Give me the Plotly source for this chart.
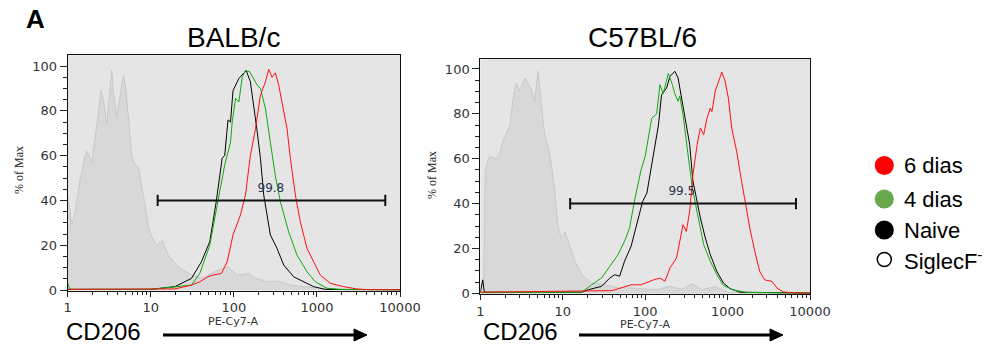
import plotly.graph_objects as go

# ---------------- data (fluorescence intensity, % of max) ----------------
# BALB/c
balb_gray_x = [1.01, 1.12, 1.22, 1.41, 1.62, 1.70, 1.77, 1.95, 2.23, 2.51, 2.69, 2.95, 3.39, 3.55, 3.89,
               4.68, 5.01, 5.38, 5.90, 6.46, 7.10, 7.80, 8.55, 9.38, 10.2, 11.7, 13.8, 16.2, 21.4, 30.9,
               39.8, 44.7, 64.6, 85.1, 110, 151, 182, 251, 347, 479, 759, 1096, 1995, 10000]
balb_gray_y = [42, 29, 34, 49, 60, 62, 61, 57, 73, 89, 85, 74, 98, 88, 77,
               96, 90, 77, 60, 56, 55, 46, 38, 28, 24, 20, 22, 15.6, 10.4, 6.7,
               5.5, 6, 9, 10.4, 6.7, 7.4, 5.2, 3.7, 4, 2.2, 1.5, 0.7, 0.2, 0]

balb_naive_x = [1.0, 10.0, 19.5, 30.9, 40.7, 51.3, 61.7, 72.4, 77.6, 85.1, 91.2, 97.7, 115, 141, 158,
                174, 191, 209, 229, 251, 275, 331, 398, 525, 692, 912, 1259, 10000]
balb_naive_y = [0.3, 0.3, 1.5, 5.2, 12.6, 21.6, 40, 59, 60, 76, 75, 89, 94.5, 98, 93,
                82.6, 70.7, 58.8, 42.4, 33.5, 24.6, 18.6, 11.2, 5.9, 3.7, 1.5, 0.3, 0.1]

balb_d4_x = [1.0, 1.05, 1.1, 10.0, 30.9, 38.9, 51.3, 64.6, 77.6, 91.2, 95.5, 105, 115, 126, 138, 155,
             191, 209, 240, 275, 316, 363, 457, 575, 759, 955, 1318, 1905, 10000]
balb_d4_y = [3, 1, 0.3, 0.3, 2.2, 7.4, 20, 39.4, 55.8, 66, 75, 85.6, 84, 95, 98, 97.5,
             91.5, 90, 81, 66, 51, 39.4, 26, 15.6, 8.2, 3.7, 0.8, 0.3, 0.1]

balb_d6_x = [1.0, 19.5, 30.9, 38.9, 49, 56.2, 70.8, 83.2, 97.7, 120, 138, 158, 182, 209, 240, 263,
             288, 316, 347, 380, 437, 479, 550, 631, 759, 912, 1096, 1445, 2089, 3020, 3981, 10000]
balb_d6_y = [0.3, 0.5, 2.2, 3.7, 6, 6.7, 7.4, 12.6, 24.6, 33.5, 42.4, 60, 72, 87, 93, 98.6,
             95, 97, 91.5, 84, 72, 58.8, 42.4, 30.5, 18.6, 12.6, 6.7, 3, 1.5, 0.5, 0.2, 0.1]

# C57BL/6
c57_gray_x = [1.02, 1.10, 1.15, 1.29, 1.55, 1.70, 1.91, 2.29, 2.57, 2.75, 2.95, 3.47, 4.17, 4.57, 5.01,
              5.50, 6.03, 6.92, 7.94, 8.71, 9.55, 10.7, 12.0, 14.1, 17.0, 22.4, 32.4, 46.8, 67.6, 97.7,
              138, 200, 282, 372, 490, 708, 1000, 1995, 10000]
c57_gray_y = [3, 5, 55, 61, 60, 62, 68.5, 75, 90, 93.8, 90, 96, 90.8, 85.6, 99,
              85.6, 70.7, 63.3, 47, 30.6, 24.7, 27.3, 21.7, 14.3, 8.3, 4.6, 3.8, 2.4, 2.4, 1.9,
              1.6, 3.1, 1.8, 4.3, 1.6, 3.0, 0.5, 0.2, 0]

c57_naive_x = [1.0, 1.07, 1.12, 17.0, 20.4, 29.5, 37.2, 42.7, 49, 56.2, 67.6, 81.3, 93.3, 105, 126, 145,
               158, 182, 200, 229, 251, 263, 288, 316, 347, 380, 427, 468, 537, 617, 741, 891, 1072,
               1413, 10000]
c57_naive_y = [0.3, 6, 0.5, 0.5, 1.6, 3.1, 6.8, 8.3, 7.6, 14.3, 21, 32, 41, 44.7, 61.8, 75,
               88.5, 91.5, 96.7, 99, 96, 91.5, 82.6, 73.7, 66.3, 50, 41, 33.6, 24.7, 17.2, 9.8, 4.6, 2.1,
               0.5, 0.1]

c57_d4_x = [1.0, 17.0, 22.4, 29.5, 37.2, 46.8, 56.2, 64.6, 74.1, 81.3, 89.1, 100, 120, 138, 151, 166,
            191, 214, 229, 251, 263, 288, 316, 347, 380, 447, 513, 617, 741, 891, 1175, 1698, 10000]
c57_d4_y = [0.3, 0.5, 3.8, 6.8, 12, 17.2, 23.2, 29, 41, 48.4, 55, 61, 78, 80, 93, 89,
            98, 93, 89, 85.6, 88, 79.6, 69, 56, 45.5, 32, 21.7, 14.3, 8.3, 3.5, 1.5, 0.4, 0.1]

c57_d6_x = [1.0, 39.8, 67.6, 87.1, 102, 126, 151, 174, 200, 240, 288, 316, 347, 380, 427, 468, 513,
            562, 617, 646, 708, 776, 851, 933, 1023, 1122, 1288, 1479, 1622, 1862, 2138, 2455, 2818,
            3467, 3981, 4786, 6918, 10000]
c57_d6_y = [0.5, 1.2, 3.8, 3.8, 4.6, 6, 6.8, 5.4, 11.3, 15.7, 30.6, 27.6, 36.6, 52.9, 66.3, 73.7, 70.7,
            78, 82.6, 81, 90, 94.6, 98.6, 94.6, 87, 73.7, 63.3, 50, 41, 29, 18.7, 9.8, 6,
            5.3, 2.3, 0.6, 0.2, 0.1]

# gates
gate_balb = [12.1, 6650]
gate_c57 = [12.3, 6760]
gate_level = 40
gate_label_balb = "99.8"
gate_label_c57 = "99.5"
gate_label_x = [279, 278]
gate_label_y = 45

x_tick_vals = [1, 10, 100, 1000, 10000]
x_tick_text = ["1", "10", "100", "1000", "10000"]
y_tick_vals = [0, 20, 40, 60, 80, 100]

panel_titles = ["BALB/c", "C57BL/6"]
legend_labels = ["6 dias", "4 dias", "Naive", "SiglecF<sup>-</sup>"]
legend_colors = ["#ff0000", "#6aa84f", "#000000", "#ffffff"]

# ---------------- styling ----------------
RED = "#ff1010"
GREEN = "#10a810"
BLACK = "#000000"
GRAY_LINE = "#c8c8c8"
GRAY_FILL = "#d8d8d8"
BG = "#e5e5e5"

fig = go.Figure()

panels = [
    ("x", "y", balb_gray_x, balb_gray_y, balb_naive_x, balb_naive_y, balb_d4_x, balb_d4_y, balb_d6_x, balb_d6_y, gate_balb),
    ("x2", "y2", c57_gray_x, c57_gray_y, c57_naive_x, c57_naive_y, c57_d4_x, c57_d4_y, c57_d6_x, c57_d6_y, gate_c57),
]

for i, (xa, ya, gx, gy, nx, ny, d4x, d4y, d6x, d6y, gate) in enumerate(panels):
    fig.add_trace(go.Scatter(x=gx, y=gy, xaxis=xa, yaxis=ya, mode="lines", fill="tozeroy",
                             fillcolor=GRAY_FILL, line=dict(color=GRAY_LINE, width=1), showlegend=False))
    fig.add_trace(go.Scatter(x=nx, y=ny, xaxis=xa, yaxis=ya, mode="lines",
                             line=dict(color=BLACK, width=1), showlegend=False))
    fig.add_trace(go.Scatter(x=d4x, y=d4y, xaxis=xa, yaxis=ya, mode="lines",
                             line=dict(color=GREEN, width=1), showlegend=False))
    fig.add_trace(go.Scatter(x=d6x, y=d6y, xaxis=xa, yaxis=ya, mode="lines",
                             line=dict(color=RED, width=1), showlegend=False))
    # gate bar with end caps
    fig.add_trace(go.Scatter(
        x=[gate[0], gate[1], None, gate[0], gate[0], None, gate[1], gate[1]],
        y=[gate_level, gate_level, None, gate_level - 2.5, gate_level + 2.5, None, gate_level - 2.5, gate_level + 2.5],
        xaxis=xa, yaxis=ya, mode="lines", line=dict(color="#111111", width=2), showlegend=False))
    fig.add_trace(go.Scatter(
        x=[gate_label_x[i]], y=[gate_label_y], xaxis=xa, yaxis=ya, mode="text",
        text=[[gate_label_balb, gate_label_c57][i]],
        textfont=dict(family="DejaVu Sans", size=12, color="#2a3350"), showlegend=False))

minor_x = [m * 10 ** d for d in range(4) for m in range(2, 10)]

def xaxis_cfg(domain):
    return dict(domain=domain, type="log", range=[0, 4], tickmode="array", tickvals=x_tick_vals,
                ticktext=x_tick_text, ticks="outside", ticklen=5, tickcolor="#222", tickwidth=1,
                showline=True, linecolor="#111", linewidth=1, mirror=True, showgrid=False, zeroline=False,
                automargin=False,
                tickfont=dict(family="DejaVu Sans", size=13, color="#333"),
                minor=dict(tickmode="array", tickvals=minor_x, ticks="outside", ticklen=3,
                           tickcolor="#222", showgrid=False))

def yaxis_cfg(domain, rng):
    return dict(domain=domain, range=rng, tickmode="array", tickvals=y_tick_vals, ticks="outside",
                ticklen=7, tickcolor="#222", tickwidth=1, showline=True, linecolor="#111", linewidth=1,
                mirror=True, showgrid=False, zeroline=False, automargin=False,
                tickfont=dict(family="DejaVu Sans", size=13, color="#333"),
                minor=dict(dtick=5, ticks="outside", ticklen=4, tickcolor="#222", showgrid=False))

fig.update_layout(
    template="none",
    width=1000, height=350, autosize=False, margin=dict(l=0, r=0, t=0, b=0, pad=0),
    paper_bgcolor="white", plot_bgcolor=BG,
    xaxis=xaxis_cfg([0.0677, 0.400]),
    yaxis=yaxis_cfg([1 - 290.7 / 350, 1 - 55.1 / 350], [-0.3, 104.9]),
    xaxis2=xaxis_cfg([0.4803, 0.810]),
    yaxis2=yaxis_cfg([1 - 294.0 / 350, 1 - 58.9 / 350], [-0.3, 104.5]),
    showlegend=False,
)
fig.update_layout(yaxis2=dict(anchor="x2"), xaxis2=dict(anchor="y2"))

ann = []
def px(x):
    return x / 1000.0
def py(y):
    return 1 - y / 350.0

def label(cx, cy, text, font, xanchor="center", angle=0):
    return dict(x=px(cx), y=py(cy), xref="paper", yref="paper", text=text, showarrow=False,
                xanchor=xanchor, yanchor="middle", textangle=angle, font=font)

# panel letter
ann.append(label(35, 19, "<b>A</b>", dict(family="Liberation Sans", size=26, color="black")))
# titles
for cx, t in zip([233, 642], panel_titles):
    ann.append(label(cx, 38, t, dict(family="Liberation Sans", size=28, color="black")))
# y titles
for cx, cy in [(19, 170), (432, 175)]:
    ann.append(label(cx, cy, "% of Max", dict(family="Liberation Sans Narrow", size=12, color="#222"), angle=-90))
# PE-Cy7-A
for cx, cy in [(233, 321), (645, 324)]:
    ann.append(label(cx, cy, "PE-Cy7-A", dict(family="DejaVu Sans", size=11, color="#333")))
# CD206 labels
for cx, cy in [(103, 331), (520, 331)]:
    ann.append(label(cx, cy, "CD206", dict(family="Liberation Sans", size=24, color="black")))

shapes = []
# arrows (shaft + head)
for x0, x1, yy in [(163, 367, 335), (579, 783, 335)]:
    shapes.append(dict(type="line", xref="paper", yref="paper", x0=px(x0), x1=px(x1 - 10),
                       y0=py(yy), y1=py(yy), line=dict(color="black", width=3)))
    shapes.append(dict(type="path", xref="paper", yref="paper",
                       path="M {} {} L {} {} L {} {} Z".format(px(x1 - 13), py(yy - 6), px(x1), py(yy),
                                                            px(x1 - 13), py(yy + 6)),
                       fillcolor="black", line=dict(color="black", width=1)))
# legend
leg_y = [165.5, 199, 230, 259.5]
for lab, col, ly in zip(legend_labels, legend_colors, leg_y):
    r = 8.8 if col != "#ffffff" else 7
    shapes.append(dict(type="circle", xref="paper", yref="paper",
                       x0=px(884.3 - r), x1=px(884.3 + r), y0=py(ly + r), y1=py(ly - r),
                       fillcolor=col, line=dict(color="black" if col in ("#000000", "#ffffff") else col, width=1.5)))
    ann.append(label(901.5, ly, lab, dict(family="Liberation Sans", size=22, color="black"), xanchor="left"))

fig.update_layout(annotations=ann, shapes=shapes)
fig.write_html("out.html")
